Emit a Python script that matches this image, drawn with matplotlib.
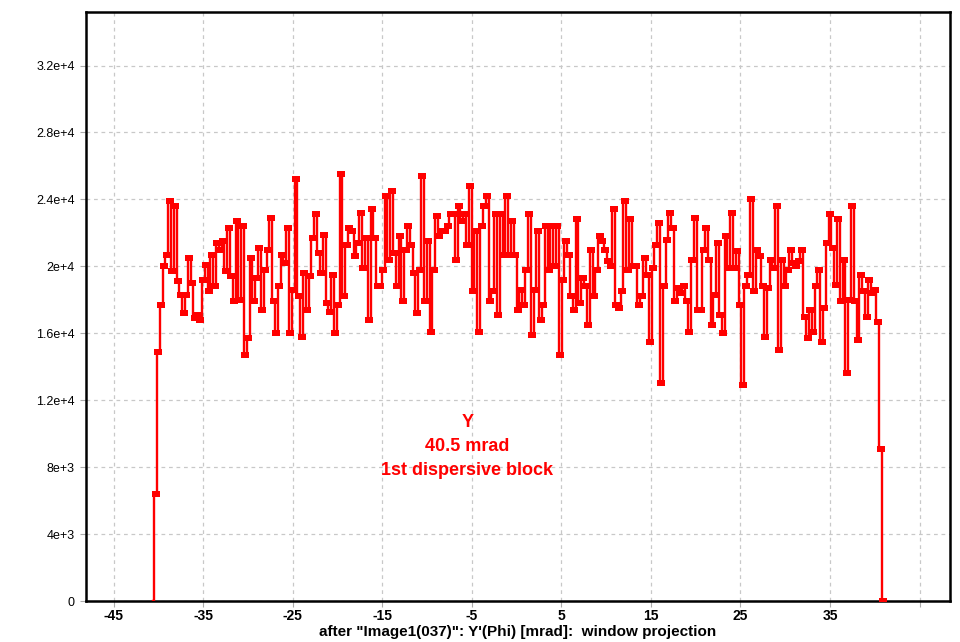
import matplotlib
matplotlib.use('Agg')
from matplotlib import pyplot as plt
import numpy as np

# counts per bin (in units of 1e3)
counts_k = [
    0.0, 6.4,
    14.9, 17.7, 20.0, 20.7, 23.9, 19.7, 23.6, 19.1, 18.3, 17.2,
    18.3, 20.5, 19.0, 16.9, 17.1, 16.8, 19.2, 20.1, 18.5, 20.7,
    18.8, 21.4, 21.0, 21.5, 19.7, 22.3, 19.4, 17.9, 22.7, 18.0,
    22.4, 14.7, 15.7, 20.5, 17.9, 19.3, 21.1, 17.4, 19.8,
    21.0, 22.9, 17.9, 16.0, 18.8, 20.7, 20.2, 22.3, 16.0, 18.6,
    25.2, 18.2, 15.8, 19.6, 17.4, 19.4, 21.7, 23.1, 20.8, 19.6,
    21.9, 17.8, 17.3, 19.5, 16.0, 17.7, 25.5, 18.2, 21.3, 22.3,
    22.1, 20.6, 21.4, 23.2, 19.9, 21.7, 16.8, 23.4, 21.7, 18.8,
    18.8, 19.8, 24.2, 20.4, 24.5,
    20.8, 18.8, 21.8, 17.9, 21.0, 22.4, 21.3, 19.6, 17.2, 19.8,
    25.4, 17.9, 21.5, 16.1, 19.8, 23.0, 21.8, 22.1, 22.1, 22.4,
    23.1, 23.1, 20.4, 23.6, 22.7, 23.1, 21.3, 24.8, 18.5, 22.1,
    16.1, 22.4, 23.6, 24.2, 17.9, 18.5, 23.1, 17.1, 23.1, 20.7,
    24.2, 20.7, 22.7,
    20.7, 17.4, 18.6, 17.7, 19.8, 23.1, 15.9, 18.6, 22.1, 16.8,
    17.7, 22.4, 19.8, 22.4, 20.0, 22.4, 14.7, 19.2, 21.5, 20.7,
    18.2, 17.4, 22.8, 17.8, 19.3, 18.8, 16.5, 21.0, 18.2, 19.8,
    21.8, 21.5, 21.0, 20.3, 20.0, 23.4, 17.7, 17.5, 18.5, 23.9,
    19.8, 22.8, 20.0, 20.0, 17.7, 18.2,
    20.5, 19.5, 15.5, 19.9, 21.3, 22.6, 13.0, 18.8, 21.6, 23.2,
    22.3, 17.9, 18.7, 18.4, 18.8, 17.9, 16.1, 20.4, 22.9, 17.4,
    17.4, 21.0, 22.3, 20.4, 16.5, 18.3, 21.4, 17.1, 16.0, 21.8,
    19.9, 23.2, 19.9, 20.9, 17.7, 12.9, 18.8, 19.5, 24.0, 18.5,
    21.0, 20.6, 18.8, 15.8,
    18.7, 20.4, 19.9, 23.6, 15.0, 20.4, 18.8, 19.8, 21.0, 20.2,
    20.0, 20.3, 21.0, 17.0, 15.7, 17.4, 16.1, 18.8, 19.8, 15.5,
    17.5, 21.4, 23.1, 21.1, 18.9, 22.8, 17.9, 20.4, 13.6, 18.0,
    23.6, 17.9, 15.6, 19.5, 18.5, 17.0, 19.2, 18.4, 18.6, 16.7,
    9.1, 0.0,
]
phi_first = -40.65
phi_last = 40.96

x_ticks = [-45, -35, -25, -15, -5, 5, 15, 25, 35]
x_grid = [-45, -35, -25, -15, -5, 5, 15, 25, 35, 45]
y_ticks = [0, 4e3, 8e3, 1.2e4, 1.6e4, 2e4, 2.4e4, 2.8e4, 3.2e4]
y_labels = ['0', '4e+3', '8e+3', '1.2e+4', '1.6e+4', '2e+4', '2.4e+4', '2.8e+4', '3.2e+4']

counts = np.array(counts_k) * 1000
phi = np.linspace(phi_first, phi_last, len(counts))

plt.rcParams['font.family'] = ['Liberation Sans', 'DejaVu Sans']

fig = plt.figure(figsize=(9.6, 6.42), dpi=100)
ax = fig.add_axes([86 / 960, 1 - 601 / 642, (950 - 86) / 960, (601 - 12) / 642])

rect = [(-1, -0.7), (1, -0.7), (1, 0.7), (-1, 0.7), (-1, -0.7)]
ax.plot(phi, counts, color='#ff0000', lw=1.7, drawstyle='steps-mid',
        marker=rect, markersize=5.8, markevery=list(range(1, len(counts))),
        markeredgewidth=0, zorder=3)

ax.set_xlim(-48.1, 48.4)
ax.set_ylim(0, 35200)
ax.set_xticks(x_grid)
ax.set_xticklabels([str(v) if v in x_ticks else '' for v in x_grid],
                   fontweight='bold', fontsize=10, fontstretch='condensed')
ax.set_yticks(y_ticks)
ax.set_yticklabels(y_labels, fontsize=9)
ax.grid(True, color='#c8c8c8', linestyle=(0, (3, 3)), linewidth=0.9)
ax.tick_params(axis='both', direction='out', length=4, color='#aaaaaa', width=0.8)
ax.tick_params(axis='x', pad=1.5)
ax.tick_params(axis='y', pad=4)
for s in ax.spines.values():
    s.set_linewidth(1.8)
    s.set_color('black')

ax.set_xlabel('after "Image1(037)": Y\'(Phi) [mrad]:  window projection',
              fontweight='bold', fontsize=11, labelpad=1.5)

ax.text(-5.5, 9250, 'Y\n40.5 mrad\n1st dispersive block', color='#ff0000',
        fontsize=13, fontweight='bold', ha='center', va='center', linespacing=1.55)

fig.savefig('out.png', dpi=100)
